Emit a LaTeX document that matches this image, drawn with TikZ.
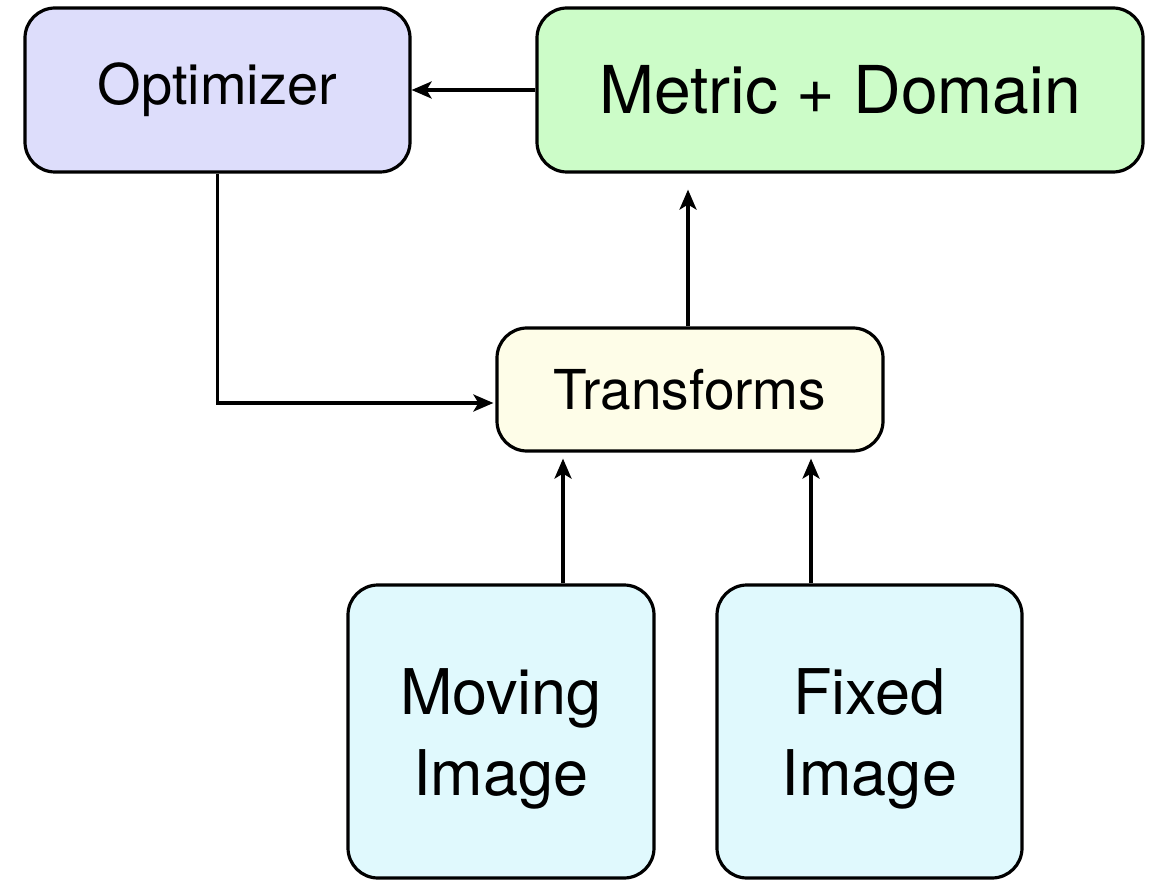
\documentclass[tikz,border=0pt]{standalone}
\usepackage{fontspec}
\setmainfont{TeX Gyre Heros}
\usetikzlibrary{arrows.meta}
\definecolor{optfill}{HTML}{DDDDFB}
\definecolor{metfill}{HTML}{CCFCC8}
\definecolor{trafill}{HTML}{FEFDE8}
\definecolor{imgfill}{HTML}{E0F9FD}
\tikzset{
  box/.style={draw=black, line width=3.2pt, rounded corners=30pt, inner sep=0pt, align=center},
  imgbox/.style={box, fill=imgfill, minimum width=306pt, minimum height=293pt,
    font=\fontsize{63}{81}\selectfont},
  conn/.style={line width=3.2pt, -{Stealth[length=20pt,width=17pt,inset=5pt]}},
}
\begin{document}
\begin{tikzpicture}[x=1pt,y=-1pt]
\useasboundingbox (0,0) rectangle (1175,885);
\node[box, fill=optfill, minimum width=385pt, minimum height=164pt,
  font=\fontsize{56}{68}\selectfont] (opt) at (217.5,90) {Optimizer};
\node[box, fill=metfill, minimum width=606pt, minimum height=164pt,
  font=\fontsize{66}{80}\selectfont] (met) at (840,90) {Metric + Domain};
\node[box, fill=trafill, minimum width=386pt, minimum height=123pt,
  font=\fontsize{55}{66}\selectfont] (tra) at (690,389.5) {Transforms};
\node[imgbox] (mov) at (501,731.5) {\mbox{}\\[-21pt]Moving\\Image};
\node[imgbox, minimum width=305pt] (fix) at (869.5,731.5) {\mbox{}\\[-21pt]Fixed\\Image};

\draw[conn] (met.west) -- (opt.east);
\draw[conn, shorten >=16pt] ([xshift=-2pt]tra.north) -- ([xshift=-2pt]tra.north |- met.south);
\draw[conn, shorten >=2pt] (opt.south) |- ([yshift=-13.5pt]tra.west);
\draw[conn, shorten >=6pt] ([xshift=62pt]mov.north) -- ([xshift=62pt]mov.north |- tra.south);
\draw[conn, shorten >=6pt] ([xshift=-58.5pt]fix.north) -- ([xshift=-58.5pt]fix.north |- tra.south);
\end{tikzpicture}
\end{document}
